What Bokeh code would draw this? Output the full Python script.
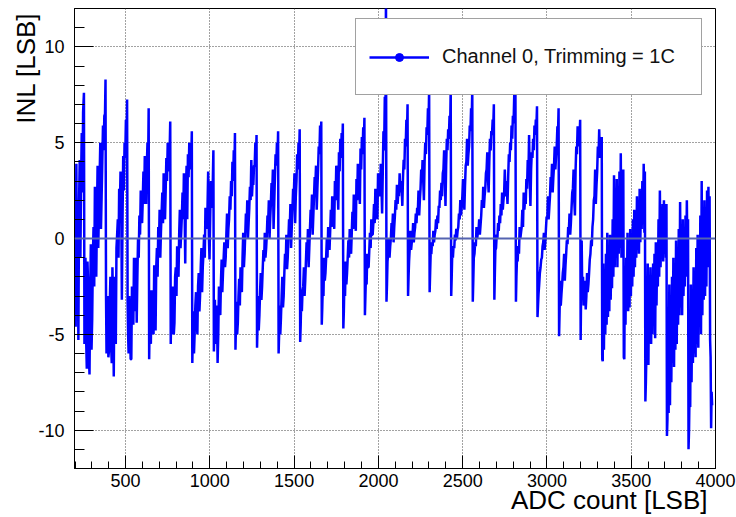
from bokeh.plotting import figure
from bokeh.models import (Range1d, SingleIntervalTicker, Span, Legend, LegendItem,
                          PrintfTickFormatter, Title)
from bokeh.embed import file_html
from bokeh.resources import INLINE

# ---- data ----
head_codes = [200, 204, 208, 212, 216, 220, 224, 228, 232, 236, 240, 244, 248, 253]
head_inl = [1.9, -4.6, 3.9, -3.5, 2.0, -5.3, 1.9, 4.1, -1.0, 3.0, 5.5, 2.4, 6.6, 7.6]

tooth_starts = [256, 384, 512, 640, 768, 896, 1024, 1152, 1280, 1408, 1536, 1664,
                1792, 1920, 2048, 2176, 2304, 2432, 2560, 2688, 2816, 2944, 3072,
                3200, 3328, 3456, 3584, 3712, 3840]

# upper edge of each tooth's band
offsets_upper = [0, 6, 14, 22, 30, 38, 46, 54, 62, 70, 78, 86, 94, 102, 110, 118, 125]
inl_upper = [
    [-5.5, -1.0, -6.8, -2.5, -7.1, -0.3, -4.2, 0.6, 2.7, -2.0, 3.8, 1.5, 5.0, 2.2, 5.9, 6.4, 8.3],
    [-2.9, -4.8, -6.2, -3.5, -5.5, -1.5, -7.2, -4.0, -0.5, 1.0, 2.6, 3.5, -3.2, 4.3, 5.0, 6.2, 7.25],
    [-3.2, -6.0, -4.5, -6.3, -3.8, -1.0, -2.5, -4.4, 0.0, 1.2, 2.5, 0.8, 3.5, 4.3, 1.8, 5.0, 6.8],
    [-6.3, -5.0, -2.7, -4.2, -1.4, -4.8, -0.5, 0.6, 1.5, 0.4, 2.4, 3.4, 1.0, 4.2, 5.0, 4.6, 6.1],
    [-5.5, -5.0, -2.5, -4.4, -1.5, -0.4, -2.0, 1.5, 0.3, 2.4, 3.4, -1.3, 3.8, 4.4, 5.0, 4.6, 5.6],
    [-6.5, -3.8, -4.9, -2.8, -5.0, -1.8, -3.0, -0.5, -1.5, 0.2, 1.6, 0.5, 3.5, -1.1, 3.0, 1.6, 4.6],
    [-5.9, -3.2, -4.9, -6.5, -2.5, -4.0, -1.1, -1.8, -0.2, -1.0, 1.3, 0.5, 2.2, 3.0, 4.0, 4.6, 5.5],
    [-5.8, -3.3, -4.4, -2.1, -1.5, -2.8, 0.3, -0.8, 1.3, 2.0, 0.8, 2.7, 4.1, 3.0, 3.8, 5.0, 5.4],
    [-5.7, -3.0, -4.0, -1.8, -2.5, -0.6, 0.3, -0.5, 1.2, 2.0, 1.0, 2.9, 3.6, 1.8, 4.4, 5.0, 5.6],
    [-6.0, -3.5, -4.1, -2.0, -3.0, -0.8, 0.2, -1.0, 1.0, 1.8, 0.6, 2.6, 3.4, 2.2, 4.4, 5.0, 5.7],
    [-5.4, -3.2, -2.7, -1.5, -2.2, -0.2, 0.5, -0.5, 1.5, 2.3, 1.2, 3.2, 3.8, 2.6, 4.8, 5.9, 6.1],
    [-4.5, -2.5, -1.0, -1.8, 0.0, 0.6, -0.6, 1.5, 2.2, 1.2, 3.0, 3.8, 2.5, 4.5, 5.2, 5.5, 6.0],
    [-4.7, -2.4, -1.2, -1.8, -0.1, 0.5, -0.8, 1.4, 2.3, 1.0, 3.1, 3.9, 2.8, 4.7, 5.3, 5.8, 6.3],
    [-4.0, -2.0, -0.8, -1.5, 0.3, 1.0, 0.2, 1.8, 2.6, 1.6, 3.4, 3.0, 3.9, 1.3, 5.6, 7.4, 12.8],
    [-3.3, -1.2, 0.0, -0.4, 0.8, 1.3, 0.6, 2.0, 2.8, 2.4, 3.4, 3.0, 1.7, 4.1, 5.2, 6.2, 7.0],
    [-3.0, -1.2, 0.4, -0.2, 0.8, 0.3, 1.3, 1.6, 2.5, 2.0, 3.6, 4.1, 2.0, 5.0, 5.8, 6.8, 7.8],
    [-2.8, -0.8, -0.2, 0.4, 0.2, 1.0, 1.2, 1.7, 2.5, 2.9, 3.4, 4.6, 1.7, 5.2, 5.7, 6.4, 7.8],
    [-3.0, -0.8, -0.4, 0.2, 0.5, 0.4, 1.3, 2.0, 1.6, 3.1, 1.5, 3.8, 5.2, 4.4, 5.9, 6.8, 7.8],
    [-3.3, -1.0, -0.2, 0.6, 0.3, 1.0, 0.7, 2.0, 2.7, 2.2, 3.4, 4.5, 2.4, 5.2, 5.6, 6.2, 7.0],
    [-3.2, -0.6, 0.2, 0.8, 1.2, 1.8, 2.4, 2.0, 3.6, 3.0, 1.8, 4.4, 5.0, 5.9, 6.4, 7.5, 7.8],
    [-3.3, -1.1, -0.4, 0.6, 0.3, 1.5, 2.4, 2.0, 3.1, 4.1, 5.4, 1.7, 4.5, 5.2, 5.9, 6.2, 6.9],
    [-4.1, -2.9, -1.8, -1.1, -0.4, 0.3, -0.2, 1.15, 2.2, 1.6, 3.2, 3.9, 3.2, 4.8, 4.3, 5.85, 6.8],
    [-5.1, -2.2, -2.9, -1.8, -0.8, -1.4, -0.1, 0.6, 1.3, 0.8, 2.4, 3.6, 1.2, 4.8, 5.85, 5.6, 6.2],
    [-5.3, -0.1, -2.0, -2.9, -3.7, -1.8, -2.4, -1.1, -0.1, 0.6, 2.0, 3.6, 2.8, 4.8, 5.7, 5.0, 5.3],
    [-6.3, -1.3, -2.0, -0.8, 0.3, -0.5, 0.2, -1.0, 1.0, 3.3, 2.0, 3.1, 2.6, 3.5, 4.45, 3.3, 3.6],
    [-6.2, -2.0, -1.0, 0.3, -0.5, 0.5, 0.0, 1.0, 1.5, 0.8, 2.2, 1.5, 2.6, 2.2, 3.0, 3.9, 3.5],
    [-8.5, -6.0, -1.3, -2.0, -1.5, -2.2, -1.3, -0.8, -0.2, -0.5, 1.0, 2.5, 0.5, 1.8, 2.0, 1.2, 1.8],
    [-10.3, -4.0, -2.4, -3.0, -2.0, -1.0, -1.5, -0.1, -1.0, 0.5, 1.9, 0.0, 1.0, -0.5, 1.2, 2.0, 1.0],
    [-11.0, -8.0, -2.4, -3.0, -1.5, -2.0, -0.5, 0.2, -0.5, 1.2, 3.0, 1.5, 2.0, 1.0, 2.5, 2.7, 2.2],
]

# lower edge of each tooth's band
offsets_lower = [3, 10, 18, 26, 34, 42, 50, 58, 66, 74, 82, 90, 98, 106, 114, 122]
inl_lower = [
    [-3.0, -5.2, -1.2, -6.0, -3.0, -5.8, -1.0, -2.5, 0.5, 1.0, -0.5, 3.2, 0.5, 4.0, 4.6, 6.5],
    [-6.0, -3.0, -5.8, -2.0, -6.5, -3.5, -2.0, -5.5, 0.2, -1.0, 1.5, 2.2, 1.0, 2.5, 4.2, 5.0],
    [-5.0, -3.0, -6.3, -2.5, -4.5, -3.8, -1.0, -2.0, -1.0, 0.2, 1.5, 2.0, 1.8, 2.8, 3.8, 4.0],
    [-4.0, -5.5, -3.0, -5.0, -2.5, -1.5, -2.0, -0.5, -1.0, 1.4, 0.8, 2.0, 2.5, 3.0, 3.5, 4.8],
    [-3.5, -4.0, -5.0, -2.0, -3.0, -1.5, 0.2, -0.5, 1.2, 1.0, 1.8, 2.5, 1.0, 3.2, 3.6, 4.2],
    [-5.0, -6.0, -3.5, -4.0, -2.5, -3.8, -1.5, -2.8, -0.8, -1.0, 0.8, 1.5, 0.2, 1.0, 2.5, 3.2],
    [-4.5, -5.5, -3.5, -5.0, -3.0, -2.2, -2.8, -1.0, -1.5, 0.2, -0.5, 1.0, 1.5, 2.2, 3.0, 3.8],
    [-4.5, -5.0, -3.0, -3.5, -1.8, -1.0, -1.5, 0.2, 0.5, 0.0, 1.6, 2.0, 2.2, 2.8, 3.8, 4.2],
    [-4.5, -4.8, -2.8, -3.2, -1.5, -1.2, -1.0, 0.2, 0.8, 0.0, 1.8, 2.4, 0.5, 3.2, 3.8, 4.4],
    [-5.0, -5.0, -3.0, -3.6, -1.8, -1.5, -1.6, 0.0, 0.5, -0.5, 1.5, 2.2, 0.8, 3.0, 3.6, 4.5],
    [-4.5, -3.8, -2.5, -3.0, -1.2, -0.8, -1.5, 0.5, 1.2, 0.2, 2.2, 2.8, 1.5, 3.6, 4.4, 5.0],
    [-3.6, -3.0, -2.2, -1.0, -1.0, -0.2, 0.4, 0.6, 1.4, 0.5, 2.0, 2.8, 1.5, 3.5, 4.2, 4.8],
    [-3.8, -3.0, -2.4, -1.0, -1.0, -0.3, 0.3, 0.5, 1.2, 0.4, 2.0, 3.0, 1.8, 3.6, 4.4, 5.0],
    [-3.0, -2.4, -1.5, -0.6, -0.5, 0.2, 0.8, 0.8, 1.6, 1.0, 2.4, 2.2, 2.8, 3.5, 4.6, 6.0],
    [-2.4, -0.8, -1.0, 0.0, 0.4, -0.2, 1.2, 1.5, 1.8, 2.2, 2.4, 2.6, 3.2, 3.6, 4.8, 5.6],
    [-2.0, -0.5, -0.6, 0.0, -0.2, 0.6, 0.8, 1.4, 1.2, 2.6, 3.0, 3.0, 4.0, 4.4, 5.4, 6.2],
    [-1.8, -0.8, -0.4, -0.2, 0.4, 0.5, 0.8, 1.6, 2.0, 2.2, 3.6, 3.4, 3.8, 4.6, 5.2, 6.0],
    [-2.0, -1.0, -0.5, -0.1, 0.0, 0.6, 1.0, 1.2, 2.2, 2.4, 2.8, 4.0, 3.8, 4.8, 5.6, 6.4],
    [-2.2, -0.8, -0.4, 0.0, 0.4, 0.2, 1.2, 1.6, 1.6, 2.6, 3.6, 3.2, 4.0, 4.6, 5.4, 6.0],
    [-1.8, -0.5, 0.0, 0.4, 0.8, 1.2, 1.5, 2.4, 2.2, 2.6, 3.2, 4.0, 4.6, 5.2, 6.0, 6.8],
    [-2.0, -1.2, -0.8, 0.0, 0.6, 0.6, 1.5, 1.8, 2.6, 3.2, 3.0, 3.6, 4.2, 4.6, 5.4, 6.0],
    [-3.5, -2.4, -1.5, -1.0, -0.2, -0.6, 0.5, 1.0, 1.0, 2.2, 2.8, 2.4, 3.8, 3.6, 4.8, 5.6],
    [-3.8, -3.5, -2.4, -1.5, -2.2, -0.8, -0.3, 0.4, 0.2, 1.6, 2.6, 2.0, 3.6, 4.4, 4.8, 5.4],
    [-2.5, -3.2, -3.5, -2.2, -3.0, -2.8, -1.8, -0.8, -0.4, 1.0, 2.2, 1.8, 3.5, 4.2, 4.2, 4.6],
    [-6.4, -5.8, -5.0, -4.5, -4.1, -3.8, -3.2, -2.6, -2.0, -1.5, -1.0, -1.5, -0.8, -0.5, -1.0, 0.0],
    [-6.3, -4.5, -3.6, -3.8, -3.6, -3.0, -2.5, -2.0, -1.5, -1.0, -0.6, -0.8, -0.2, 0.5, 1.0, 0.3],
    [-7.5, -5.0, -6.6, -4.5, -5.5, -5.0, -4.0, -5.2, -3.5, -2.5, -2.0, -1.5, -1.0, -1.2, -0.8, -1.0],
    [-9.4, -9.1, -8.7, -7.5, -6.5, -6.7, -5.8, -5.5, -4.5, -4.0, -3.6, -4.0, -3.0, -2.5, -2.0, -1.5],
    [-10.0, -8.8, -7.5, -6.5, -6.0, -6.2, -5.5, -5.7, -4.5, -5.0, -4.0, -3.2, -3.0, -2.5, -1.5, -0.8],
]

tail_codes = [3968, 3971, 3974, 3977, 3980]
tail_inl = [-5.3, -6.2, -9.9, -8.0, -8.7]

x_ticks_interval = 500
y_ticks_interval = 5
legend_label = "Channel 0, Trimming = 1C"
x_title = "ADC count [LSB]"
y_title = "INL [LSB]"

# ---- assemble the series (sorted by code within each tooth) ----
adc = list(head_codes)
inl = list(head_inl)
for start, up, lo in zip(tooth_starts, inl_upper, inl_lower):
    pts = list(zip(offsets_upper, up)) + list(zip(offsets_lower, lo))
    pts.sort(key=lambda t: t[0])
    for off, v in pts:
        adc.append(start + off)
        inl.append(v)
adc += tail_codes
inl += tail_inl

FONT = "Liberation Sans"

p = figure(width=736, height=517, x_range=Range1d(197, 4000), y_range=Range1d(-12, 12),
           output_backend="svg", toolbar_location=None,
           min_border_left=74, min_border_right=21, min_border_top=8, min_border_bottom=49)
p.background_fill_color = "white"
p.border_fill_color = "white"
p.outline_line_color = "black"
p.outline_line_width = 1
p.outline_line_alpha = 1

xt = SingleIntervalTicker(interval=x_ticks_interval, num_minor_ticks=5)
yt = SingleIntervalTicker(interval=y_ticks_interval, num_minor_ticks=5)
xa = p.xaxis[0]
ya = p.yaxis[0]
xa.ticker = xt
ya.ticker = yt
ya.formatter = PrintfTickFormatter(format="%d")
xa.formatter = PrintfTickFormatter(format="%d")
p.xgrid.ticker = xt
p.ygrid.ticker = yt

for ax in (xa, ya):
    ax.axis_line_color = "black"
    ax.major_tick_line_color = "black"
    ax.minor_tick_line_color = "black"
    ax.major_tick_out = 0
    ax.minor_tick_out = 0
    ax.major_label_text_font = FONT
    ax.major_label_text_font_size = "18px"
    ax.major_label_text_color = "black"

xa.major_tick_in = 13
xa.minor_tick_in = 7
ya.major_tick_in = 19
ya.minor_tick_in = 10
xa.major_label_standoff = 5
ya.major_label_standoff = 10

xtitle = Title(text=x_title, align="right", vertical_align="top", offset=8, standoff=-10,
               text_font=FONT, text_font_size="26px", text_font_style="normal", text_color="black")
p.add_layout(xtitle, "below")
ytitle = Title(text=y_title, align="right", vertical_align="bottom", offset=4, standoff=-10,
               text_font=FONT, text_font_size="26px", text_font_style="normal", text_color="black")
p.add_layout(ytitle, "left")

for g in (p.xgrid, p.ygrid):
    g.grid_line_color = "#444444"
    g.grid_line_dash = "1 2"
    g.grid_line_width = 1

line_r = p.line(adc, inl, line_color="#0000ff", line_width=2.5)
mark_r = p.scatter(adc, inl, marker="circle", size=8, fill_color="#0000ff", line_color="#0000ff")
mark_r.visible = False

zero = Span(location=0, dimension="width", line_color="#5564b0", line_width=2)
p.add_layout(zero)

legend = Legend(items=[LegendItem(label=legend_label, renderers=[line_r, mark_r])],
                location=(281, 373), orientation="vertical",
                border_line_color="#444444", border_line_width=1,
                background_fill_color="white", background_fill_alpha=1,
                label_text_font=FONT, label_text_font_size="20px", label_text_color="#111111",
                glyph_width=60, glyph_height=20, label_standoff=13, padding=13,
                label_width=246, label_height=49, spacing=0, margin=0)
p.add_layout(legend)

open("out.html", "w").write(file_html(p, INLINE))
